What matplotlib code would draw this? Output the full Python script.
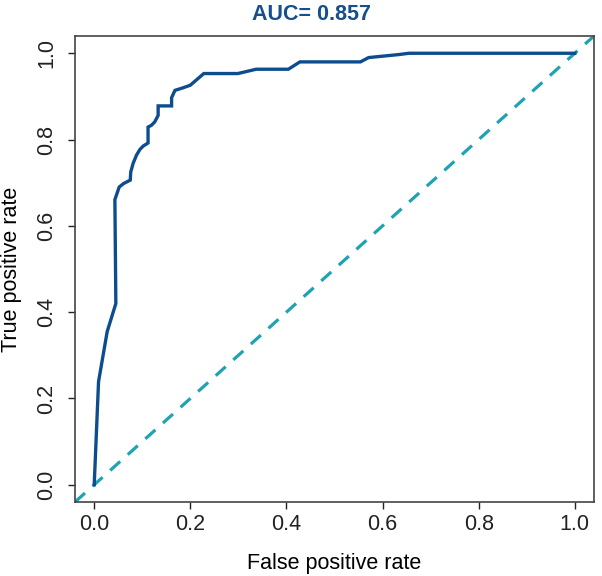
import matplotlib
matplotlib.use("Agg")
import matplotlib.pyplot as plt

plt.rcParams['font.family'] = ['Liberation Sans', 'DejaVu Sans']

fpr = [0.0, 0.009, 0.027, 0.045, 0.043, 0.048, 0.052, 0.061, 0.075, 0.076, 0.081,
       0.088, 0.095, 0.102, 0.112, 0.112, 0.119, 0.126, 0.133, 0.133, 0.161, 0.161,
       0.168, 0.185, 0.2, 0.228, 0.299, 0.337, 0.404, 0.428, 0.554, 0.571, 0.634,
       0.655, 1.0]
tpr = [0.0, 0.239, 0.355, 0.42, 0.661, 0.677, 0.69, 0.698, 0.706, 0.725, 0.745,
       0.764, 0.777, 0.785, 0.792, 0.829, 0.833, 0.841, 0.856, 0.878, 0.878, 0.897,
       0.914, 0.92, 0.926, 0.953, 0.953, 0.963, 0.963, 0.98, 0.98, 0.99, 0.997,
       1.0, 1.0]
ticks = [0.0, 0.2, 0.4, 0.6, 0.8, 1.0]
tick_labels = ["0.0", "0.2", "0.4", "0.6", "0.8", "1.0"]
auc_text = "AUC= 0.857"

W, H = 602, 576
fig = plt.figure(figsize=(W / 100, H / 100), dpi=100)
ax = fig.add_axes([75 / W, 1 - 502 / H, (594 - 75) / W, (502 - 36) / H])

ax.axline((0, 0), (1, 1), color="#1fa3b3", lw=2.3, dashes=(4.2, 3.2), zorder=1)
ax.plot(fpr, tpr, color="#0d4c8e", lw=2.4, zorder=2, solid_joinstyle="miter")

ax.set_xlim(-0.04, 1.04)
ax.set_ylim(-0.04, 1.04)
ax.set_xticks(ticks)
ax.set_xticklabels(tick_labels)
ax.set_yticks(ticks)
ax.set_yticklabels(tick_labels, rotation=90, va="center")
ax.tick_params(axis="both", direction="out", length=5, width=1, labelsize=15.5,
               colors="#222222")
ax.tick_params(axis="x", pad=4)
ax.tick_params(axis="y", pad=8)
for s in ax.spines.values():
    s.set_linewidth(1.2)
    s.set_color("#444444")

ax.set_xlabel("False positive rate", fontsize=15.5, va="center")
ax.xaxis.set_label_coords(0.5, (502 - 564) / 466)
ax.set_ylabel("True positive rate", fontsize=15.5, va="center")
ax.yaxis.set_label_coords((12 - 75) / 519, 0.5)
fig.text(311 / W, 1 - 15 / H, auc_text, fontsize=15.5, fontweight="bold",
         color="#174e8c", ha="center", va="center")

fig.savefig("out.png", dpi=100)
